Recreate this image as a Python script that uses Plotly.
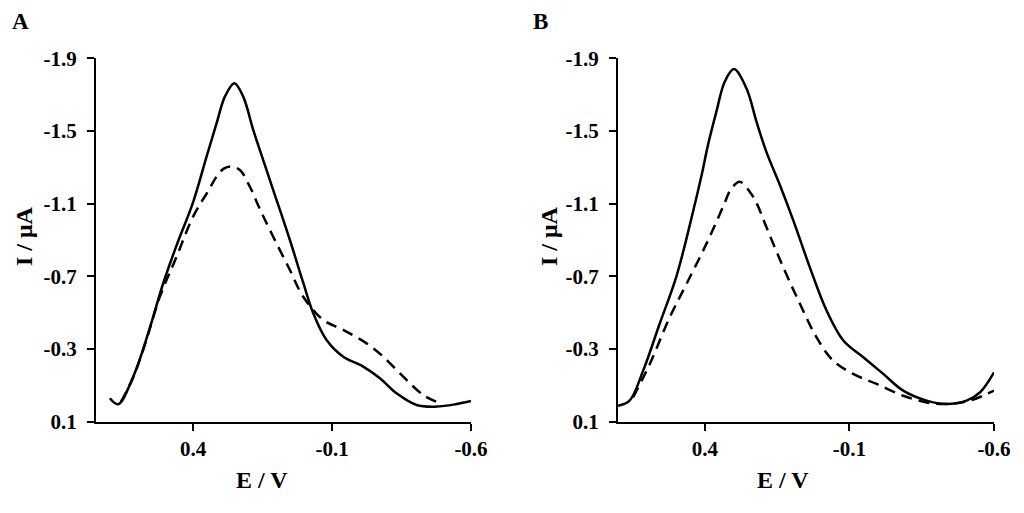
import plotly.graph_objects as go

# Panel A
a_solid_E = [0.700, 0.670, 0.616, 0.562, 0.508, 0.460, 0.400, 0.352, 0.316, 0.286, 0.252, 0.220, 0.184, 0.148, 0.112, 0.052, 0.004, -0.032, -0.080, -0.140, -0.212, -0.272, -0.332, -0.404, -0.476, -0.548, -0.600]
a_solid_I = [-0.029, 0.004, -0.148, -0.387, -0.662, -0.870, -1.110, -1.359, -1.542, -1.689, -1.763, -1.689, -1.506, -1.340, -1.175, -0.900, -0.665, -0.497, -0.350, -0.258, -0.203, -0.139, -0.056, 0.008, 0.017, 0.003, -0.014]
a_dash_E = [0.660, 0.620, 0.580, 0.520, 0.460, 0.400, 0.346, 0.316, 0.290, 0.265, 0.232, 0.196, 0.160, 0.112, 0.052, 0.004, -0.068, -0.140, -0.224, -0.284, -0.356, -0.428, -0.488]
a_dash_I = [-0.010, -0.130, -0.295, -0.588, -0.808, -1.030, -1.170, -1.249, -1.293, -1.305, -1.285, -1.193, -1.070, -0.918, -0.735, -0.588, -0.460, -0.405, -0.331, -0.258, -0.148, -0.047, -0.001]

# Panel B
b_solid_E = [0.700, 0.660, 0.613, 0.556, 0.498, 0.440, 0.411, 0.389, 0.360, 0.331, 0.299, 0.256, 0.221, 0.187, 0.140, 0.094, 0.037, -0.021, -0.079, -0.148, -0.217, -0.286, -0.367, -0.436, -0.505, -0.552, -0.600]
b_solid_I = [0.012, -0.016, -0.181, -0.439, -0.700, -1.060, -1.256, -1.422, -1.605, -1.771, -1.841, -1.735, -1.550, -1.385, -1.201, -1.008, -0.751, -0.512, -0.347, -0.255, -0.163, -0.071, -0.016, 0.002, -0.016, -0.062, -0.172]
b_dash_E = [0.648, 0.590, 0.521, 0.463, 0.394, 0.337, 0.308, 0.279, 0.244, 0.220, 0.187, 0.129, 0.071, 0.014, -0.044, -0.113, -0.194, -0.286, -0.367, -0.436, -0.517, -0.600]
b_dash_I = [-0.034, -0.218, -0.475, -0.659, -0.880, -1.082, -1.183, -1.220, -1.164, -1.100, -0.971, -0.751, -0.549, -0.365, -0.236, -0.163, -0.108, -0.043, -0.006, 0.002, -0.016, -0.071]

x_tickvals = [0.4, -0.1, -0.6]
x_ticktext = ["0.4", "-0.1", "-0.6"]
y_tickvals = [-1.9, -1.5, -1.1, -0.7, -0.3, 0.1]
y_ticktext = ["-1.9", "-1.5", "-1.1", "-0.7", "-0.3", "0.1"]
panel_labels = ["A", "B"]
x_title = "E / V"
y_title = "I / \u03bcA"

W, H = 1024, 513
OFF = 8  # page body margin
FONT = "Liberation Serif"

def fx(px):
    return (px - OFF) / W

def fy(py):
    return 1 - (py - OFF) / H

fig = go.Figure()

def add_panel(n, sE, sI, dE, dI):
    xa = "x" if n == 1 else "x2"
    ya = "y" if n == 1 else "y2"
    fig.add_trace(go.Scatter(x=sE, y=sI, mode="lines", line=dict(color="black", width=2.5, shape="spline", smoothing=1.0),
                             xaxis=xa, yaxis=ya, showlegend=False, hoverinfo="skip"))
    fig.add_trace(go.Scatter(x=dE, y=dI, mode="lines", line=dict(color="black", width=2.5, shape="spline", smoothing=1.0, dash="11px,7px"),
                             xaxis=xa, yaxis=ya, showlegend=False, hoverinfo="skip"))

add_panel(1, a_solid_E, a_solid_I, a_dash_E, a_dash_I)
add_panel(2, b_solid_E, b_solid_I, b_dash_E, b_dash_I)

bx = [f"<b>{t}</b>" for t in x_ticktext]
by = [f"<b>{t}</b>" for t in y_ticktext]

ydom = [fy(421.7), fy(58.3)]
axis_common = dict(showgrid=False, zeroline=False, showline=True, linecolor="black", linewidth=2,
                   ticks="outside", ticklen=7, tickwidth=2, tickcolor="black", automargin=False,
                   tickfont=dict(family=FONT, size=21, color="black"))

fig.update_layout(
    template="none",
    width=W, height=H, autosize=False,
    margin=dict(l=0, r=0, t=0, b=0, pad=0),
    paper_bgcolor="white", plot_bgcolor="white",
    xaxis=dict(domain=[fx(96), fx(471)], range=[0.75, -0.6], tickvals=x_tickvals, ticktext=bx,
               anchor="y", **axis_common),
    yaxis=dict(domain=ydom, range=[0.1, -1.9], tickvals=y_tickvals, ticktext=by,
               anchor="x", ticklabelstandoff=6, **axis_common),
    xaxis2=dict(domain=[fx(618), fx(994)], range=[0.7, -0.6], tickvals=x_tickvals, ticktext=bx,
                anchor="y2", **axis_common),
    yaxis2=dict(domain=ydom, range=[0.1, -1.9], tickvals=y_tickvals, ticktext=by,
                anchor="x2", ticklabelstandoff=6, **axis_common),
)

ann = []
for lab, px in zip(panel_labels, [20, 540]):
    ann.append(dict(text=f"<b>{lab}</b>", x=fx(px), y=fy(21), xref="paper", yref="paper",
                    showarrow=False, xanchor="center", yanchor="middle",
                    font=dict(family=FONT, size=23, color="black")))
for px in [262, 783]:
    ann.append(dict(text=f"<b>{x_title}</b>", x=fx(px), y=fy(480), xref="paper", yref="paper",
                    showarrow=False, xanchor="center", yanchor="middle",
                    font=dict(family=FONT, size=24, color="black")))
for px in [24, 549]:
    ann.append(dict(text=f"<b>{y_title}</b>", x=fx(px), y=fy(236), xref="paper", yref="paper",
                    showarrow=False, xanchor="center", yanchor="middle", textangle=-90,
                    font=dict(family=FONT, size=24, color="black")))
fig.update_layout(annotations=ann)

fig.write_html("out.html")
